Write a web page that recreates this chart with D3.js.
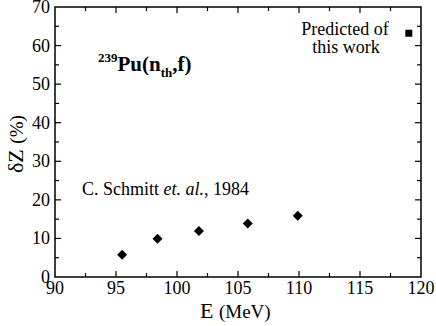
<!DOCTYPE html>
<html>
<head>
<meta charset="utf-8">
<script src="https://cdn.jsdelivr.net/npm/d3@7"></script>
<style>
  html, body { margin: 0; padding: 0; background: #fff; }
</style>
</head>
<body>
<div id="chart"></div>
<script>
// measured data: C. Schmitt et al., 1984
const schmittE = [95.5, 98.4, 101.8, 105.8, 109.9];
const schmittDZ = [5.8, 9.9, 11.9, 13.9, 15.9];
// predicted value of this work
const predE = [119.0];
const predDZ = [63.2];

const xTicks = [90, 95, 100, 105, 110, 115, 120];
const yTicks = [0, 10, 20, 30, 40, 50, 60, 70];

const width = 436, height = 326;
const margin = { top: 7, right: 15, bottom: 49, left: 55 };
const serif = "Liberation Serif";

const svg = d3.select("#chart").append("svg")
  .attr("width", width)
  .attr("height", height);

const x = d3.scaleLinear().domain([90, 120]).range([margin.left, width - margin.right]);
const y = d3.scaleLinear().domain([0, 70]).range([height - margin.bottom, margin.top]);

const minorX = d3.range(92.5, 120, 5);
const minorY = d3.range(5, 70, 10);

/** frame */
svg.append("rect")
  .attr("x", x(90))
  .attr("y", y(70))
  .attr("width", x(120) - x(90))
  .attr("height", y(0) - y(70))
  .attr("fill", "none")
  .attr("stroke", "#000")
  .attr("stroke-width", 1.5);

/** inward ticks on all four sides */
function addTicks(values, len) {
  const g = svg.append("g").attr("stroke", "#000").attr("stroke-width", 1.2);
  values.x.forEach(v => {
    g.append("line").attr("x1", x(v)).attr("x2", x(v)).attr("y1", y(0)).attr("y2", y(0) - len);
    g.append("line").attr("x1", x(v)).attr("x2", x(v)).attr("y1", y(70)).attr("y2", y(70) + len);
  });
  values.y.forEach(v => {
    g.append("line").attr("x1", x(90)).attr("x2", x(90) + len).attr("y1", y(v)).attr("y2", y(v));
    g.append("line").attr("x1", x(120)).attr("x2", x(120) - len).attr("y1", y(v)).attr("y2", y(v));
  });
}
addTicks({ x: xTicks.slice(1, -1), y: yTicks.slice(1, -1) }, 6);
addTicks({ x: minorX, y: minorY }, 4);

/** tick labels */
svg.append("g")
  .selectAll("text")
  .data(xTicks)
  .join("text")
  .attr("x", d => x(d))
  .attr("y", y(0) + 17)
  .attr("text-anchor", "middle")
  .attr("font-family", serif)
  .attr("font-size", 18)
  .text(d => d);

svg.append("g")
  .selectAll("text")
  .data(yTicks)
  .join("text")
  .attr("x", x(90) - 5)
  .attr("y", d => y(d) + 6)
  .attr("text-anchor", "end")
  .attr("font-family", serif)
  .attr("font-size", 18)
  .text(d => d);

/** axis titles */
const xLab = svg.append("text")
  .attr("x", 200)
  .attr("y", 318)
  .attr("font-family", serif)
  .attr("font-size", 22);
xLab.append("tspan").text("E ");
xLab.append("tspan").attr("font-size", 19).text("(MeV)");

const yLab = svg.append("text")
  .attr("transform", "translate(23, 173) rotate(-90)")
  .attr("font-family", serif)
  .attr("font-size", 22);
yLab.append("tspan").text("δZ ");
yLab.append("tspan").attr("font-size", 19).text("(%)");

/** reaction label */
const reac = svg.append("text")
  .attr("x", 98)
  .attr("y", 71)
  .attr("font-family", serif)
  .attr("font-weight", "bold")
  .attr("font-size", 21);
reac.append("tspan").attr("dy", -9).attr("font-size", 13).text("239");
reac.append("tspan").attr("dy", 9).text("Pu(n");
reac.append("tspan").attr("dy", 6).attr("font-size", 13).text("th");
reac.append("tspan").attr("dy", -6).text(",f)");

/** annotations */
const schmitt = svg.append("text")
  .attr("x", 82)
  .attr("y", 195)
  .attr("font-family", serif)
  .attr("font-size", 18);
schmitt.append("tspan").text("C. Schmitt ");
schmitt.append("tspan").attr("font-style", "italic").text("et. al.");
schmitt.append("tspan").text(", 1984");

svg.append("text")
  .attr("x", 345).attr("y", 35)
  .attr("text-anchor", "middle")
  .attr("font-family", serif)
  .attr("font-size", 18)
  .text("Predicted of");
svg.append("text")
  .attr("x", 346).attr("y", 53)
  .attr("text-anchor", "middle")
  .attr("font-family", serif)
  .attr("font-size", 18)
  .text("this work");

/** markers */
svg.append("g")
  .selectAll("path")
  .data(schmittE.map((e, i) => [e, schmittDZ[i]]))
  .join("path")
  .attr("transform", d => "translate(" + x(d[0]) + "," + y(d[1]) + ")")
  .attr("d", "M0,-5L5,0L0,5L-5,0Z")
  .attr("fill", "#000");

svg.append("g")
  .selectAll("rect")
  .data(predE.map((e, i) => [e, predDZ[i]]))
  .join("rect")
  .attr("x", d => x(d[0]) - 3.5)
  .attr("y", d => y(d[1]) - 3.5)
  .attr("width", 7)
  .attr("height", 7)
  .attr("fill", "#000");
</script>
</body>
</html>
